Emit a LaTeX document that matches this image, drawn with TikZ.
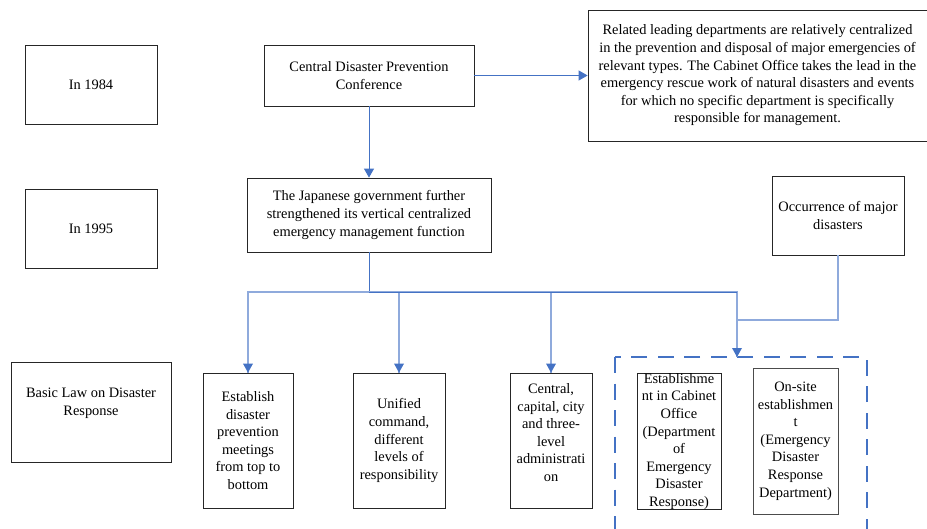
\documentclass[tikz,border=0pt]{standalone}
\usepackage{fontspec}
\setmainfont{Liberation Serif}
\usetikzlibrary{arrows.meta}
\definecolor{bdark}{RGB}{68,114,196}
\definecolor{blight}{RGB}{143,170,220}
\tikzset{
  box/.style={draw=black!85, line width=0.8pt, inner sep=0pt, align=center,
    font=\fontsize{14.4}{17.6}\selectfont},
  txt/.style={inner sep=0pt, align=center, font=\fontsize{14.4}{17.6}\selectfont},
  tip/.style={-{Triangle[length=9pt,width=10pt]}},
  mainline/.style={draw=bdark, line width=1pt},
  lightline/.style={draw=blight, line width=1.2pt},
  dashbox/.style={draw=bdark, line width=2.4pt, dash pattern=on 16pt off 10.5pt}
}
\begin{document}
\begin{tikzpicture}[x=1pt,y=-1pt]
\useasboundingbox (0,0) rectangle (927,528);
% row 1
\node[box, minimum width=132, minimum height=79] (y1984) at (91,84.5) {In 1984};
\node[box, minimum width=210, minimum height=61] (cdpc) at (369,75.5) {Central Disaster Prevention\\Conference};
\node[box, minimum width=339, minimum height=131] (rel) at (757.5,75.5) {Related leading departments are relatively centralized\\in the prevention and disposal of major emergencies of\\relevant types. The Cabinet Office takes the lead in the\\emergency rescue work of natural disasters and events\\for which no specific department is specifically\\responsible for management.};
% row 2
\node[box, minimum width=132, minimum height=79] (y1995) at (91,228.5) {In 1995};
\node[box, minimum width=244, minimum height=74] (jgov) at (369,215) {The Japanese government further\\strengthened its vertical centralized\\emergency management function};
\node[box, minimum width=132, minimum height=79] (occ) at (838,215.5) {Occurrence of major\\disasters};
% row 3
\node[box, minimum width=160, minimum height=100] (law) at (91,412) {};
\node[txt] (lawt) at (91,403) {Basic Law on Disaster\\Response};
\node[box, minimum width=90, minimum height=135] (est) at (248,440.5) {Establish\\disaster\\prevention\\meetings\\from top to\\bottom};
\node[box, minimum width=92, minimum height=135] (uni) at (399,440.5) {Unified\\command,\\different\\levels of\\responsibility};
\node[box, minimum width=82, minimum height=135] (ccap) at (551,440.5) {};
\node[txt] (ccapt) at (551,432.5) {Central,\\capital, city\\and three-\\level\\administrati\\on};
\node[box, minimum width=84, minimum height=136] (cab) at (679,441) {};
\node[txt] (cabt) at (679,441.5) {Establishme\\nt in Cabinet\\Office\\(Department\\of\\Emergency\\Disaster\\Response)};
\node[box, draw=black!70, minimum width=85, minimum height=146] (onsite) at (795.5,441) {On-site\\establishmen\\t\\(Emergency\\Disaster\\Response\\Department)};
% dashed group
\draw[dashbox] (615,357) rectangle (867,545);
% connectors
\coordinate (bus) at (369,292);
\coordinate (dtop) at (737,357);
\coordinate (join) at (737,320);
\draw[mainline, tip, bdark] (cdpc.east) -- (rel.west);
\draw[mainline, tip, bdark] (cdpc.south) -- (jgov.north);
\draw[mainline] (jgov.south) -- (bus);
\draw[lightline] (bus) -| (est.north);
\draw[lightline] (bus) -| (uni.north);
\draw[lightline] (bus) -| (ccap.north);
\draw[lightline] (bus) -| (dtop);
\draw[lightline] (occ.south) |- (join);
\draw[mainline] (bus) -- (737,292);
\fill[bdark] (est.north) -- ++(-5,-9) -- ++(10,0) -- cycle;
\fill[bdark] (uni.north) -- ++(-5,-9) -- ++(10,0) -- cycle;
\fill[bdark] (ccap.north) -- ++(-5,-9) -- ++(10,0) -- cycle;
\fill[bdark] (dtop) -- ++(-5,-9) -- ++(10,0) -- cycle;
\end{tikzpicture}
\end{document}
